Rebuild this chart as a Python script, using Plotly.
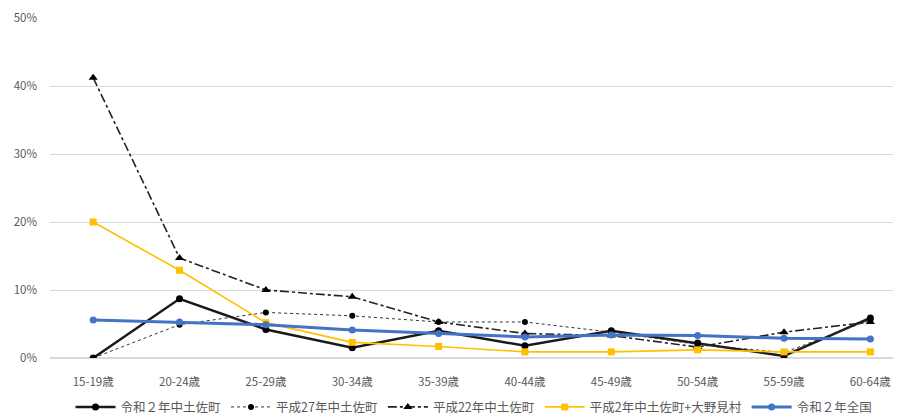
import plotly.graph_objects as go

categories = ["15-19歳", "20-24歳", "25-29歳", "30-34歳", "35-39歳",
              "40-44歳", "45-49歳", "50-54歳", "55-59歳", "60-64歳"]

r2_town = [0.0, 8.7, 4.2, 1.5, 4.0, 1.8, 4.0, 2.2, 0.3, 5.9]
h27_town = [0.0, 4.9, 6.7, 6.2, 5.3, 5.3, 3.8, 2.0, 0.8, 5.6]
h22_town = [41.2, 14.7, 10.0, 9.0, 5.3, 3.6, 3.3, 1.6, 3.8, 5.3]
h2_town = [20.0, 12.9, 5.2, 2.3, 1.7, 0.9, 0.9, 1.2, 0.9, 0.9]
r2_nation = [5.6, 5.3, 4.9, 4.1, 3.6, 3.1, 3.4, 3.3, 2.9, 2.8]

names = ["令和２年中土佐町", "平成27年中土佐町", "平成22年中土佐町",
         "平成2年中土佐町+大野見村", "令和２年全国"]

def pct(v):
    return [x / 100 for x in v]

fig = go.Figure()
fig.add_trace(go.Scatter(x=categories, y=pct(r2_town), name=names[0], mode="lines+markers",
                         line=dict(color="#1a1a1a", width=2.5),
                         marker=dict(symbol="circle", size=7, color="#000000")))
fig.add_trace(go.Scatter(x=categories, y=pct(h27_town), name=names[1], mode="lines+markers",
                         line=dict(color="#333333", width=1, dash="dot"),
                         marker=dict(symbol="circle", size=6, color="#000000")))
fig.add_trace(go.Scatter(x=categories, y=pct(h22_town), name=names[2], mode="lines+markers",
                         line=dict(color="#222222", width=1.6, dash="dashdot"),
                         marker=dict(symbol="triangle-up", size=8, color="#000000")))
fig.add_trace(go.Scatter(x=categories, y=pct(h2_town), name=names[3], mode="lines+markers",
                         line=dict(color="#FFC000", width=1.6),
                         marker=dict(symbol="square", size=7, color="#FFC000")))
fig.add_trace(go.Scatter(x=categories, y=pct(r2_nation), name=names[4], mode="lines+markers",
                         line=dict(color="#4472C4", width=3),
                         marker=dict(symbol="circle", size=7, color="#4472C4")))

fig.update_layout(
    width=893, height=411,
    margin=dict(l=42, r=3, t=10, b=61, autoexpand=False),
    paper_bgcolor="white", plot_bgcolor="white",
    font=dict(family="Noto Sans CJK JP, Noto Sans, sans-serif", size=11, color="#595959"),
    showlegend=True,
    legend=dict(orientation="h", x=0.5, xanchor="center", y=-0.145, yanchor="middle",
                font=dict(size=12.5, color="#595959"), itemwidth=40,
                traceorder="normal"),
)
fig.update_xaxes(type="category", range=[-0.5, 9.32], showgrid=False, showline=False,
                 ticks="", automargin=False, ticklabelstandoff=15,
                 tickfont=dict(size=11.5, color="#595959"))
fig.update_yaxes(range=[0, 0.5], dtick=0.1, tickformat=".0%", showgrid=True,
                 gridcolor="#D9D9D9", gridwidth=1, zeroline=True, zerolinecolor="#D9D9D9",
                 showline=False, ticks="", ticklabelstandoff=12, automargin=False,
                 tickfont=dict(size=11.5, color="#595959"))

fig.write_html("out.html")
